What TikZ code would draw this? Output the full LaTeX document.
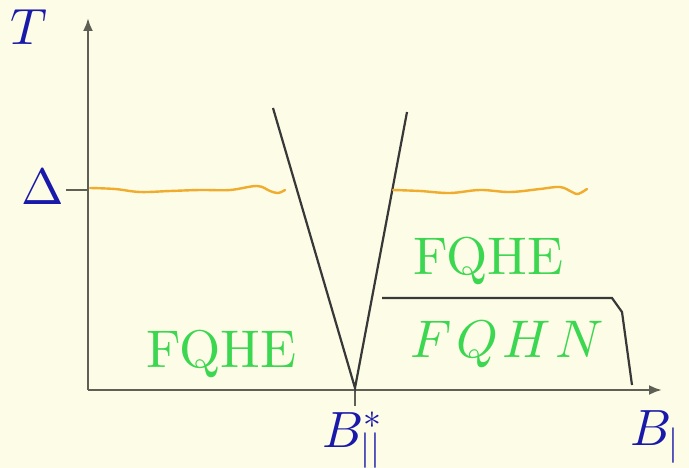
\RequirePackage{fix-cm}
\documentclass[tikz,border=0pt]{standalone}
\usetikzlibrary{arrows.meta}
\DeclareFontFamily{OML}{cmm}{\skewchar\font'177}
\DeclareFontShape{OML}{cmm}{m}{it}{<->cmmi10}{}
\DeclareFontFamily{OT1}{cmr}{\hyphenchar\font45}
\DeclareFontShape{OT1}{cmr}{m}{n}{<->cmr10}{}
\DeclareFontFamily{OMS}{cmsy}{\skewchar\font'60}
\DeclareFontShape{OMS}{cmsy}{m}{n}{<->cmsy10}{}
\definecolor{bg}{RGB}{253,252,230}
\definecolor{axisgray}{RGB}{95,95,85}
\definecolor{lblue}{RGB}{25,25,170}
\definecolor{lgreen}{RGB}{60,215,80}
\definecolor{lorange}{RGB}{240,172,45}
\tikzset{
  axis/.style={draw=axisgray, line width=2.4pt, -{Latex[length=13pt,width=10pt]}},
  tick/.style={draw=axisgray, line width=2.4pt},
  boundary/.style={draw=black!78, line width=2.2pt},
  gapline/.style={draw=lorange, line width=2.4pt, line cap=round, line join=round},
  phase/.style={text=lgreen, inner sep=0pt, anchor=base west, font=\fontsize{53}{60}\usefont{OT1}{cmr}{m}{n}},
  axlabel/.style={text=lblue, inner sep=0pt, anchor=base west, font=\fontsize{51}{60}\selectfont},
}
\begin{document}
\begin{tikzpicture}[x=1pt,y=-1pt]
\fill[bg] (0,0) rectangle (689,468);
\useasboundingbox (0,0) rectangle (689,468);
% coordinates
\coordinate (O) at (88,390);
\coordinate (Ttop) at (88,18);
\coordinate (Xend) at (662,390);
\coordinate (D0) at (66,190);
\coordinate (D1) at (88,190);
\coordinate (Bs0) at (355,390);
\coordinate (Bs1) at (355,406);
\coordinate (Vl) at (273,108);
\coordinate (Vr) at (407,112);
\coordinate (Vb) at (355,388);
\coordinate (K0) at (382,298);
\coordinate (K1) at (612,298);
\coordinate (K2) at (622,312);
\coordinate (K3) at (632,385);
% axes
\draw[axis] (O) -- (Ttop);
\draw[axis] (O) -- (Xend);
\draw[tick] (D0) -- (D1);
\draw[tick] (Bs0) -- (Bs1);
% V boundary
\draw[boundary] (Vl) -- (Vb) -- (Vr);
% FQHN boundary
\draw[boundary] (K0) -- (K1) -- (K2) -- (K3);
% orange gap lines
\draw[gapline] plot[smooth, tension=0.6] coordinates {(90,188) (115,189) (140,192) (170,191) (200,190) (230,190) (257,186) (270,191) (278,193) (285,190)};
\draw[gapline] plot[smooth, tension=0.6] coordinates {(393,190) (420,191) (450,193) (480,190) (510,192) (540,189) (560,187) (572,192) (578,194) (587,189)};
% labels
\node[axlabel] (T) at (10,45) {$T$};
\node[axlabel] (Delta) at (21,205) {$\Delta$};
\node[axlabel] (Bstar) at (322,447) {$B^*_{||}$};
\node[axlabel] (Bpar) at (630,445) {$B_{|}$};
\node[phase] (F1) at (146,367) {FQHE};
\node[phase] (F2) at (413,275) {FQHE};
\node[phase] (F3) at (410,357) {$F\mkern1.5mu Q\mkern1.5mu H\mkern1.5mu N$};
\end{tikzpicture}
\end{document}
